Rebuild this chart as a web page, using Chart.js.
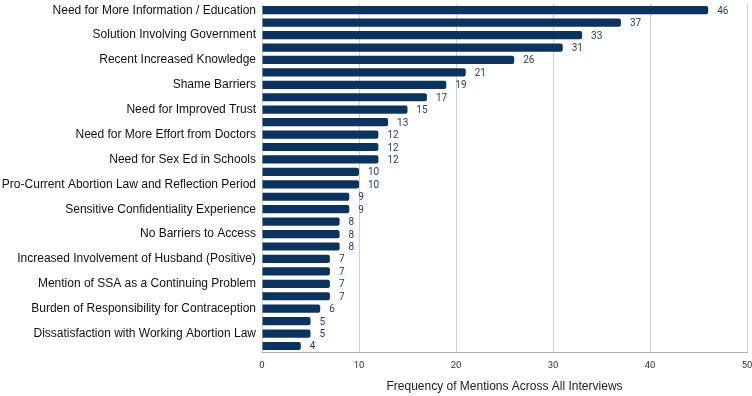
<!DOCTYPE html>
<html>
<head>
<meta charset="utf-8">
<script src="https://cdn.jsdelivr.net/npm/chart.js@4.4.1/dist/chart.umd.min.js"></script>
<style>
  html, body { margin: 0; padding: 0; background: #fff; }
  #wrap { width: 752px; height: 396px; }
</style>
</head>
<body>
<div id="wrap"><canvas id="mentionsChart"></canvas></div>
<script>
// Only every other category is labelled in the original figure
const categories = [
    'Need for More Information / Education', '',
    'Solution Involving Government', '',
    'Recent Increased Knowledge', '',
    'Shame Barriers', '',
    'Need for Improved Trust', '',
    'Need for More Effort from Doctors', '',
    'Need for Sex Ed in Schools', '',
    'Pro-Current Abortion Law and Reflection Period', '',
    'Sensitive Confidentiality Experience', '',
    'No Barriers to Access', '',
    'Increased Involvement of Husband (Positive)', '',
    'Mention of SSA as a Continuing Problem', '',
    'Burden of Responsibility for Contraception', '',
    'Dissatisfaction with Working Abortion Law', ''
];
const mentions = [46, 37, 33, 31, 26, 21, 19, 17, 15, 13, 12, 12, 12, 10, 10, 9, 9, 8, 8, 8, 7, 7, 7, 7, 6, 5, 5, 4];
const xTicks = [0, 10, 20, 30, 40, 50];

const barColor = '#0b335e';
const labelColor = '#1f3f6e';

// draws the value to the right of each bar
const valueLabels = {
    id: 'valueLabels',
    afterDatasetsDraw(chart) {
        const ctx = chart.ctx;
        const meta = chart.getDatasetMeta(0);
        ctx.save();
        ctx.font = '10px Roboto';
        ctx.fillStyle = labelColor;
        ctx.textAlign = 'left';
        ctx.textBaseline = 'middle';
        meta.data.forEach((bar, i) => {
            ctx.fillText(String(mentions[i]), bar.x + 9, bar.y + 1);
        });
        ctx.restore();
    }
};

const ctx = document.getElementById('mentionsChart').getContext('2d');
new Chart(ctx, {
    type: 'bar',
    data: {
        labels: categories,
        datasets: [{
            data: mentions,
            backgroundColor: barColor,
            borderRadius: 2,
            borderSkipped: 'start',
            barPercentage: 0.66,
            categoryPercentage: 1.0
        }]
    },
    options: {
        indexAxis: 'y',
        responsive: true,
        maintainAspectRatio: false,
        animation: false,
        layout: { padding: { top: 4, right: 5, left: 0, bottom: 2 } },
        plugins: {
            legend: { display: false },
            tooltip: { enabled: false }
        },
        scales: {
            x: {
                min: 0,
                max: 50,
                afterBuildTicks(axis) {
                    axis.ticks = xTicks.map(v => ({ value: v }));
                },
                afterFit(axis) {
                    axis.paddingLeft = 0;
                    axis.paddingRight = 0;
                },
                grid: { color: '#d0d0d0', lineWidth: 1, drawTicks: false },
                border: { display: true, color: '#b0b0b0' },
                ticks: {
                    padding: 8,
                    color: '#333',
                    font: { family: 'Roboto', size: 9.5 }
                },
                title: {
                    display: true,
                    text: 'Frequency of Mentions Across All Interviews',
                    color: '#222',
                    font: { family: 'Liberation Sans', size: 12 },
                    padding: { top: 0, bottom: 0 }
                }
            },
            y: {
                afterFit(axis) {
                    axis.width = 262;
                    axis.paddingTop = 0;
                    axis.paddingBottom = 0;
                },
                grid: { display: false, drawTicks: false },
                border: { display: false },
                ticks: {
                    autoSkip: false,
                    padding: 6,
                    color: '#111',
                    font: { family: 'Liberation Sans', size: 12 }
                }
            }
        }
    },
    plugins: [valueLabels]
});
</script>
</body>
</html>
